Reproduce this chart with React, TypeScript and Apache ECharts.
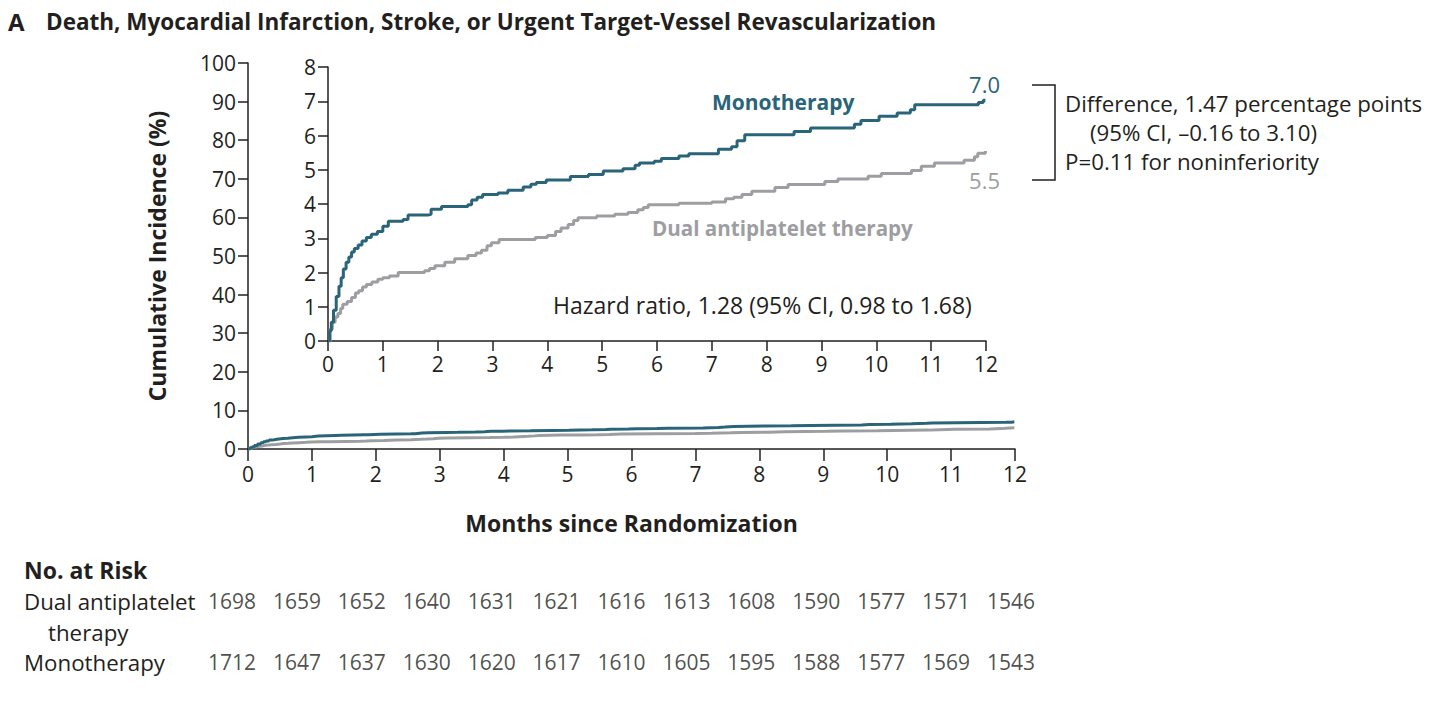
import React, { useEffect, useRef } from "react";
import * as echarts from "echarts";

const TEAL = "#2a6479";
const GRAY = "#9d9ea1";
const INK = "#231f20";
const FONT = "'Open Sans', Lato, sans-serif";

const monthTicks = [0, 1, 2, 3, 4, 5, 6, 7, 8, 9, 10, 11, 12];

// Kaplan-Meier step points [month, cumulative incidence %]
const monotherapy: [number, number][] = [
  [0, 0], [0.03, 0.3], [0.06, 0.55], [0.1, 0.9], [0.15, 1.3], [0.2, 1.6], [0.24, 1.85],
  [0.28, 2.1], [0.33, 2.3], [0.38, 2.45], [0.43, 2.6], [0.48, 2.7], [0.55, 2.8],
  [0.62, 2.92], [0.7, 3.02], [0.79, 3.12], [0.9, 3.2], [1.0, 3.35], [1.1, 3.5],
  [1.37, 3.55], [1.46, 3.68], [1.82, 3.7], [1.88, 3.85], [2.07, 3.93], [2.55, 3.98],
  [2.62, 4.12], [2.72, 4.2], [2.82, 4.28], [3.1, 4.32], [3.28, 4.4], [3.56, 4.5],
  [3.7, 4.58], [3.8, 4.63], [3.98, 4.7], [4.42, 4.8], [4.75, 4.86], [5.02, 4.96],
  [5.38, 5.03], [5.6, 5.13], [5.68, 5.2], [5.95, 5.25], [6.08, 5.33], [6.4, 5.4],
  [6.58, 5.47], [7.12, 5.6], [7.36, 5.67], [7.46, 5.85], [7.6, 6.02], [8.5, 6.12],
  [8.8, 6.22], [9.6, 6.33], [9.72, 6.44], [10.05, 6.56], [10.38, 6.66], [10.62, 6.75],
  [10.7, 6.9], [11.86, 6.96], [11.95, 7.03], [11.99, 7.05],
];

const dualAntiplatelet: [number, number][] = [
  [0, 0], [0.04, 0.35], [0.08, 0.55], [0.13, 0.7], [0.18, 0.8], [0.23, 0.95], [0.27, 1.07],
  [0.35, 1.15], [0.43, 1.27], [0.5, 1.4], [0.56, 1.47], [0.63, 1.58], [0.7, 1.65],
  [0.8, 1.72], [0.91, 1.8], [1.0, 1.85], [1.12, 1.9], [1.28, 2.0], [1.76, 2.05],
  [1.85, 2.12], [1.95, 2.2], [2.13, 2.3], [2.31, 2.4], [2.55, 2.5], [2.7, 2.57],
  [2.8, 2.65], [2.9, 2.78], [2.98, 2.87], [3.12, 2.96], [3.78, 3.02], [4.0, 3.08],
  [4.15, 3.2], [4.25, 3.3], [4.38, 3.4], [4.48, 3.52], [4.56, 3.6], [4.9, 3.65],
  [5.23, 3.7], [5.47, 3.75], [5.65, 3.83], [5.75, 3.9], [5.84, 3.98], [6.4, 4.02],
  [7.0, 4.06], [7.25, 4.15], [7.4, 4.2], [7.55, 4.28], [7.73, 4.37], [8.15, 4.48],
  [8.39, 4.57], [9.06, 4.66], [9.3, 4.73], [9.85, 4.81], [10.09, 4.89], [10.64, 4.98],
  [10.82, 5.1], [11.06, 5.2], [11.6, 5.28], [11.79, 5.38], [11.85, 5.48], [11.99, 5.55],
];

const riskDual = [1698, 1659, 1652, 1640, 1631, 1621, 1616, 1613, 1608, 1590, 1577, 1571, 1546];
const riskMono = [1712, 1647, 1637, 1630, 1620, 1617, 1610, 1605, 1595, 1588, 1577, 1569, 1543];

const title = "Death, Myocardial Infarction, Stroke, or Urgent Target-Vessel Revascularization";

export default function App() {
  const ref = useRef<HTMLDivElement>(null);
  useEffect(() => {
    if (!ref.current) return;
    const chart = echarts.init(ref.current, undefined, { renderer: "svg" });

    const axisLine = { show: true, lineStyle: { color: INK, width: 1.5 } };
    const tick = (len: number) => ({ show: true, inside: false, length: len, lineStyle: { color: INK, width: 1.5 } });
    const lbl = (size: number, margin: number) => ({ color: INK, fontSize: size, fontFamily: FONT, margin });

    const text = (x: number, y: number, t: string, size: number, opts: any = {}) => ({
      type: "text",
      x,
      y,
      style: {
        text: t,
        fill: opts.fill || INK,
        font: `${opts.weight || "normal"} ${size}px ${FONT}`,
        textAlign: opts.align || "left",
        align: opts.align || "left",
        textVerticalAlign: "middle",
        verticalAlign: "middle",
      },
    });

    const riskLabel = {
      show: true, position: "inside", formatter: (p: any) => String(p.value[2]),
      color: INK, fontSize: 21, fontFamily: FONT, textBorderWidth: 0,
    };

    chart.setOption({
      animation: false,
      backgroundColor: "#ffffff",
      grid: [
        { left: 248, right: 1456 - 1015, top: 63, bottom: 704 - 449 },
        { left: 328, right: 1456 - 986, top: 67, bottom: 704 - 341 },
        { left: 232, right: 1456 - 1011, top: 601, height: 61 },
      ],
      xAxis: [
        {
          gridIndex: 0, type: "value", min: 0, max: 12, interval: 1,
          axisLine, axisTick: tick(12), axisLabel: lbl(21, 14), splitLine: { show: false },
          name: "Months since Randomization", nameLocation: "middle", nameGap: 62,
          nameTextStyle: { color: INK, fontSize: 23, fontWeight: "bold", fontFamily: FONT },
        },
        {
          gridIndex: 1, type: "value", min: 0, max: 12, interval: 1,
          axisLine, axisTick: tick(10), axisLabel: lbl(21, 12), splitLine: { show: false },
        },
        {
          gridIndex: 2, type: "value", min: 0, max: 12, interval: 1, show: false,
        },
      ],
      yAxis: [
        {
          gridIndex: 0, type: "value", min: 0, max: 100, interval: 10,
          axisLine, axisTick: tick(10), axisLabel: lbl(21, 12), splitLine: { show: false },
          name: "Cumulative Incidence (%)", nameLocation: "middle", nameGap: 80, nameRotate: 90,
          nameTextStyle: { color: INK, fontSize: 23, fontWeight: "bold", fontFamily: FONT },
        },
        {
          gridIndex: 1, type: "value", min: 0, max: 8, interval: 1,
          axisLine, axisTick: tick(10), axisLabel: lbl(21, 12), splitLine: { show: false },
        },
        { gridIndex: 2, type: "value", min: 0, max: 1, show: false },
      ],
      series: [
        {
          type: "line", xAxisIndex: 0, yAxisIndex: 0, step: "end", data: dualAntiplatelet,
          symbol: "none", lineStyle: { color: GRAY, width: 3 }, z: 3,
        },
        {
          type: "line", xAxisIndex: 0, yAxisIndex: 0, step: "end", data: monotherapy,
          symbol: "none", lineStyle: { color: TEAL, width: 3 }, z: 4,
        },
        {
          type: "line", xAxisIndex: 1, yAxisIndex: 1, step: "end", data: dualAntiplatelet,
          symbol: "none", lineStyle: { color: GRAY, width: 3 }, z: 3,
        },
        {
          type: "line", xAxisIndex: 1, yAxisIndex: 1, step: "end", data: monotherapy,
          symbol: "none", lineStyle: { color: TEAL, width: 3 }, z: 4,
        },
        {
          type: "scatter", xAxisIndex: 2, yAxisIndex: 2, symbolSize: 0,
          data: riskDual.map((v, i) => [monthTicks[i], 1, v]),
          label: riskLabel,
        },
        {
          type: "scatter", xAxisIndex: 2, yAxisIndex: 2, symbolSize: 0,
          data: riskMono.map((v, i) => [monthTicks[i], 0, v]),
          label: riskLabel,
        },
      ],
      graphic: [
        text(8, 21, "A", 24, { weight: "bold" }),
        text(46, 21, title, 22.5, { weight: "bold" }),
        text(712, 102, "Monotherapy", 21, { weight: "bold", fill: TEAL }),
        text(652, 228, "Dual antiplatelet therapy", 20.6, { weight: "bold", fill: GRAY }),
        text(553, 305, "Hazard ratio, 1.28 (95% CI, 0.98 to 1.68)", 23),
        text(1000, 84, "7.0", 22, { fill: TEAL, align: "right" }),
        text(1000, 180, "5.5", 22, { fill: GRAY, align: "right" }),
        {
          type: "polyline",
          shape: { points: [[1032, 85], [1055, 85], [1055, 180], [1032, 180]] },
          style: { stroke: INK, lineWidth: 1.5, fill: "none" },
        },
        text(1065, 103, "Difference, 1.47 percentage points", 22.3),
        text(1090, 132, "(95% CI, \u20130.16 to 3.10)", 22.3),
        text(1065, 161, "P=0.11 for noninferiority", 22.3),
        text(24, 570, "No. at Risk", 23, { weight: "bold" }),
        text(24, 601, "Dual antiplatelet", 22.3),
        text(48, 632, "therapy", 22.3),
        text(24, 662, "Monotherapy", 22.3),
      ],
    });
    return () => chart.dispose();
  }, []);
  return (
    <div
      ref={ref}
      style={{ position: "absolute", left: 0, top: 0, width: 1456, height: 704, background: "#fff" }}
    />
  );
}
